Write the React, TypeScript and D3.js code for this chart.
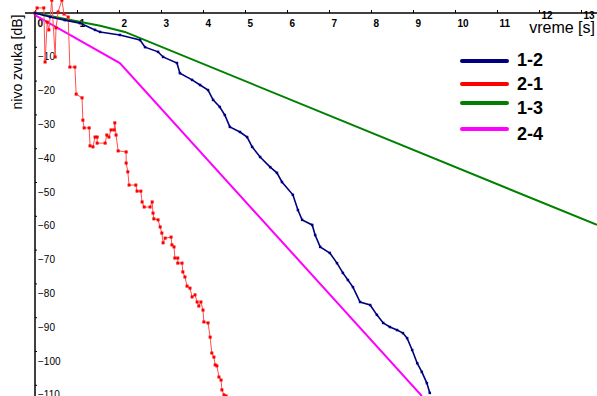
import React, { useEffect, useRef } from "react";
import * as d3 from "d3";

// time [s], level [dB]
const blueT = [0, 0.36, 0.71, 1.07, 1.43, 1.55, 2.02, 2.5, 2.62, 2.93, 3.05, 3.38, 3.45, 3.74, 3.93, 4.12, 4.24, 4.4, 4.52, 4.64, 4.88, 5.05, 5.17, 5.36, 5.6, 5.76, 5.88, 6.14, 6.26, 6.36, 6.6, 6.67, 6.79, 7.02, 7.19, 7.33, 7.45, 7.57, 7.74, 7.98, 8.14, 8.29, 8.45, 8.62, 8.76, 8.86, 8.98, 9.1, 9.21, 9.33, 9.4];
const blueDb = [0, -1.2, -2.1, -3.0, -5.0, -5.6, -6.5, -8.0, -10.1, -11.5, -13.0, -14.8, -17.8, -19.8, -21.3, -22.8, -25.7, -27.8, -30.2, -33.7, -35.2, -36.7, -39.6, -42.6, -45.6, -47.3, -50.0, -53.8, -58.3, -61.2, -62.7, -65.7, -69.2, -71.0, -74.0, -76.9, -79.0, -81.1, -85.5, -86.4, -89.3, -91.7, -92.9, -93.8, -94.7, -96.2, -99.7, -103.6, -106.2, -109.5, -112.4];

const redT = [0, 0.05, 0.21, 0.24, 0.29, 0.33, 0.4, 0.48, 0.5, 0.55, 0.64, 0.69, 0.79, 0.83, 0.95, 0.98, 1.12, 1.14, 1.17, 1.29, 1.31, 1.38, 1.43, 1.48, 1.48, 1.67, 1.71, 1.76, 1.81, 1.88, 1.9, 1.93, 1.98, 2.17, 2.17, 2.21, 2.24, 2.4, 2.43, 2.52, 2.55, 2.6, 2.74, 2.79, 2.81, 2.83, 2.93, 2.98, 3.02, 3.05, 3.1, 3.24, 3.26, 3.31, 3.33, 3.4, 3.4, 3.5, 3.52, 3.57, 3.62, 3.69, 3.74, 3.81, 3.86, 3.9, 3.95, 4.0, 4.02, 4.12, 4.17, 4.21, 4.26, 4.29, 4.33, 4.38, 4.43, 4.45, 4.5, 4.55];
const redDb = [0, 1.5, 1.5, -14.5, -2.7, -5.0, 3.8, -13, -4.4, 0.3, 3.8, -0.3, -1.2, -16, -16, -24, -25.1, -31.7, -34, -34, -39.3, -39.6, -36.7, -36.7, -38.5, -38.5, -36.1, -36.7, -34.6, -34.6, -32.5, -36.1, -40.8, -41.1, -44.4, -47.0, -50.9, -50.9, -52.7, -52.7, -55.9, -57.4, -57.4, -55.9, -59.2, -60.9, -61.2, -63.3, -65.1, -68.0, -66.6, -66.3, -68.6, -69.2, -72.5, -72.5, -74.0, -74.0, -76.6, -78.1, -80.8, -81.4, -84.0, -83.4, -85.5, -86.7, -85.5, -87.9, -91.4, -91.7, -95.9, -100.6, -101.8, -104.1, -104.4, -107.7, -108.6, -111.5, -113.0, -113.3];

const greenT = [0, 0.6, 1.55, 2.14, 13.38];
const greenDb = [0, -1.5, -3.8, -5.6, -62.7];

const magentaT = [0, 2.02, 9.21];
const magentaDb = [-0.6, -14.8, -113.3];

const xTicks = d3.range(0, 14);
const yTicks = [-10, -20, -30, -40, -50, -60, -70, -80, -90, -100, -110];

const legendNames = ["1-2", "2-1", "1-3", "2-4"];
const colors = ["#000080", "#ff0000", "#008000", "#ff00ff"];

const font = "'Liberation Sans', Arial, sans-serif";

const App = () => {
  const svgRef = useRef<SVGSVGElement>(null);

  useEffect(() => {
    const svg = d3.select(svgRef.current);
    svg.selectAll("*").remove();

    const x = d3.scaleLinear().domain([0, 13]).range([35, 581]);
    const y = d3.scaleLinear().domain([0, -110]).range([13, 384.8]);

    const line = d3
      .line<[number, number]>()
      .x((d) => x(d[0]))
      .y((d) => y(d[1]));

    const zip = (t: number[], v: number[]) =>
      t.map((d, i) => [d, v[i]] as [number, number]);

    const blue = zip(blueT, blueDb);
    const red = zip(redT, redDb);
    const green = zip(greenT, greenDb);
    const magenta = zip(magentaT, magentaDb);

    // axes
    svg
      .append("line")
      .attr("x1", 25)
      .attr("x2", 597)
      .attr("y1", 13)
      .attr("y2", 13)
      .attr("stroke", "#000")
      .attr("stroke-width", 1.5);
    svg
      .append("line")
      .attr("x1", 35)
      .attr("x2", 35)
      .attr("y1", 12)
      .attr("y2", 396)
      .attr("stroke", "#000")
      .attr("stroke-width", 1.5);

    const xAxis = svg
      .append("g")
      .attr("transform", "translate(0,13)")
      .call(d3.axisTop(x).tickValues(xTicks).tickSize(3).tickFormat(d3.format("d")));
    xAxis.select(".domain").remove();
    xAxis.selectAll("line").attr("stroke", "#000");
    xAxis
      .selectAll("text")
      // last two labels are pushed up, clear of the axis title
      .attr("y", (d: any) => (d >= 12 ? 6 : 14))
      .attr("x", 2)
      .attr("dy", 0)
      .attr("text-anchor", "start")
      .attr("font-family", font)
      .attr("font-weight", "bold")
      .attr("font-size", 10)
      .attr("fill", "#000");

    const yAxis = svg
      .append("g")
      .attr("transform", "translate(35,0)")
      .call(d3.axisRight(y).tickValues(yTicks).tickSize(2).tickFormat(d3.format("d")));
    yAxis.select(".domain").remove();
    yAxis.selectAll("line").attr("stroke", "#000");
    yAxis
      .selectAll("text")
      .attr("x", 3)
      .attr("y", 13)
      .attr("dy", 0)
      .attr("text-anchor", "start")
      .attr("font-family", font)
      .attr("font-size", 10)
      .attr("fill", "#000");

    // series
    svg
      .append("path")
      .datum(green)
      .attr("d", line)
      .attr("fill", "none")
      .attr("stroke", colors[2])
      .attr("stroke-width", 2);

    svg
      .append("path")
      .datum(magenta)
      .attr("d", line)
      .attr("fill", "none")
      .attr("stroke", colors[3])
      .attr("stroke-width", 2);

    svg
      .append("path")
      .datum(red)
      .attr("d", line)
      .attr("fill", "none")
      .attr("stroke", "#ff5050")
      .attr("stroke-width", 1);
    svg
      .append("g")
      .selectAll("rect")
      .data(red)
      .enter()
      .append("rect")
      .attr("x", (d) => x(d[0]) - 1.5)
      .attr("y", (d) => y(d[1]) - 1.5)
      .attr("width", 3)
      .attr("height", 3)
      .attr("fill", colors[1]);

    svg
      .append("path")
      .datum(blue)
      .attr("d", line)
      .attr("fill", "none")
      .attr("stroke", colors[0])
      .attr("stroke-width", 1.6);
    svg
      .append("g")
      .selectAll("rect")
      .data(blue)
      .enter()
      .append("rect")
      .attr("x", (d) => x(d[0]) - 1.25)
      .attr("y", (d) => y(d[1]) - 1.25)
      .attr("width", 2.5)
      .attr("height", 2.5)
      .attr("fill", colors[0]);

    // titles
    svg
      .append("text")
      .attr("transform", "translate(22,62) rotate(-90)")
      .attr("text-anchor", "middle")
      .attr("font-family", font)
      .attr("font-size", 14)
      .attr("fill", "#000")
      .text("nivo zvuka [dB]");

    svg
      .append("text")
      .attr("x", 595)
      .attr("y", 33)
      .attr("text-anchor", "end")
      .attr("font-family", font)
      .attr("font-size", 16)
      .attr("fill", "#000")
      .text("vreme [s]");

    // legend
    const lineY = [61, 84, 103, 129];
    const textY = [66, 90, 114, 140];
    const lg = svg.append("g");
    legendNames.forEach((name, i) => {
      lg.append("line")
        .attr("x1", 462)
        .attr("x2", 507)
        .attr("y1", lineY[i])
        .attr("y2", lineY[i])
        .attr("stroke", colors[i])
        .attr("stroke-width", 4)
        .attr("stroke-linecap", "round");
      lg.append("text")
        .attr("x", 517)
        .attr("y", textY[i])
        .attr("font-family", font)
        .attr("font-weight", "bold")
        .attr("font-size", 18)
        .attr("fill", "#000")
        .text(name);
    });
  }, []);

  return (
    <svg
      ref={svgRef}
      width={597}
      height={396}
      style={{ position: "absolute", left: 0, top: 0, background: "#fff" }}
    ></svg>
  );
};

export default App;
